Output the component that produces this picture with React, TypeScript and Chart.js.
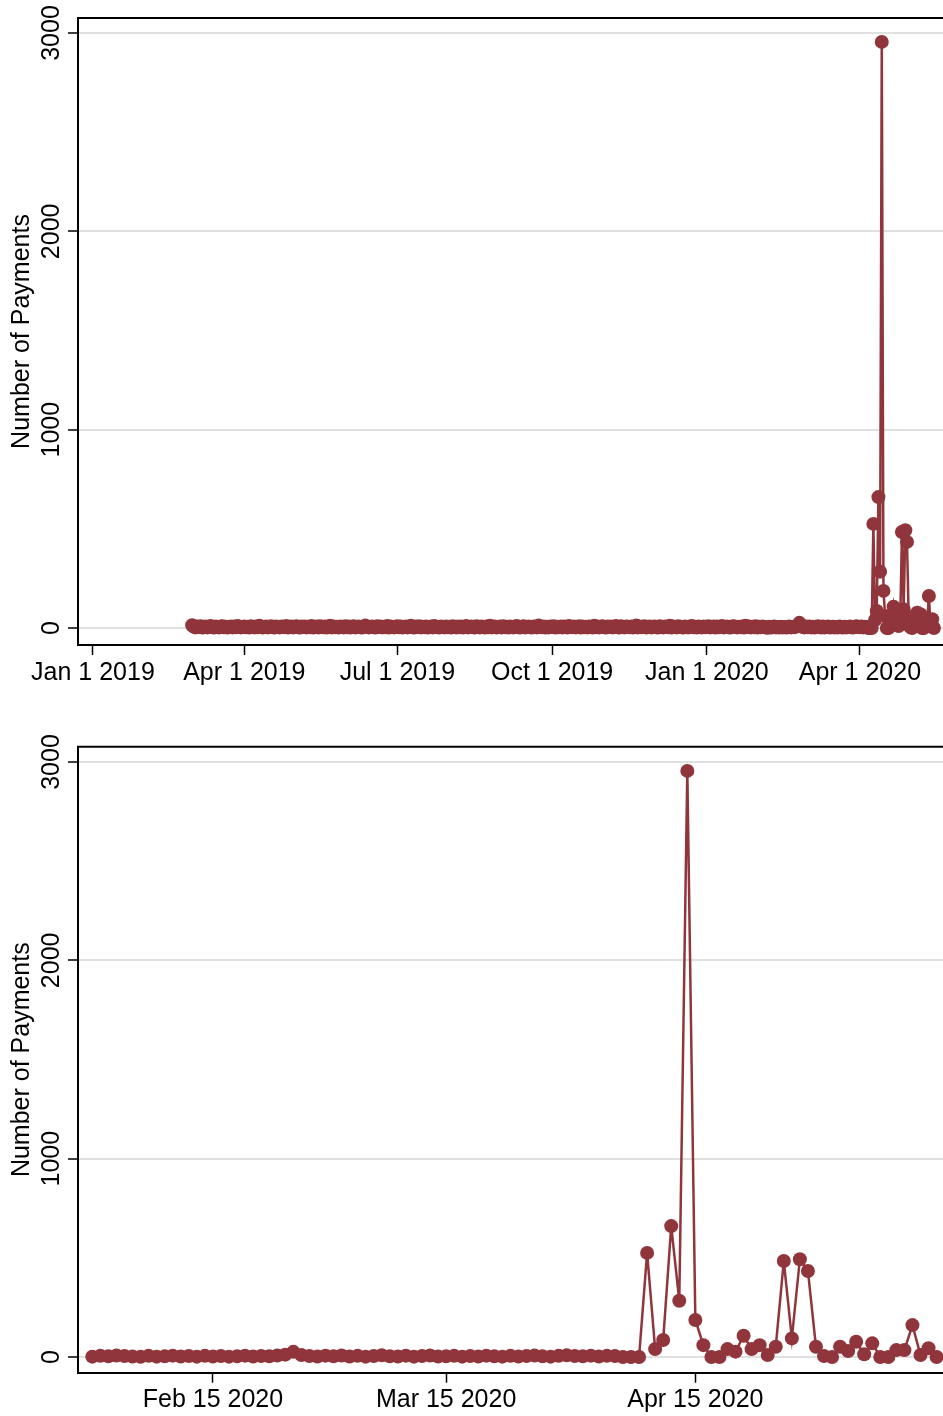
import React, { useEffect, useRef } from "react";
import { Chart, registerables } from "chart.js";

Chart.register(...registerables);

const DAY_MS = 86400000;
const dayNum = (y: number, m: number, d: number) => Date.UTC(y, m - 1, d) / DAY_MS;

// Daily number of payments, one array per calendar month (index 0 = the 1st)
const mar2019 = [14, 6, 3, 8, 5, 9, 2, 4, 7, 3, 6, 10, 4, 2, 8, 5, 3, 7, 9, 4, 6, 2, 5, 8, 3, 7, 4, 10, 6, 3, 5];
const apr2019 = [8, 4, 6, 2, 9, 5, 3, 7, 4, 11, 6, 2, 5, 8, 3, 6, 9, 4, 2, 7, 5, 3, 8, 6, 4, 10, 2, 5, 7, 3];
const may2019 = [6, 9, 4, 2, 7, 5, 8, 3, 6, 4, 10, 2, 5, 7, 3, 9, 6, 4, 8, 2, 5, 11, 3, 7, 4, 6, 2, 8, 5, 3, 9];
const jun2019 = [4, 7, 2, 6, 9, 3, 5, 8, 4, 2, 7, 12, 5, 3, 6, 8, 4, 2, 9, 5, 7, 3, 6, 4, 10, 2, 8, 5, 3, 6];
const jul2019 = [9, 4, 7, 2, 5, 8, 3, 6, 11, 4, 2, 7, 5, 9, 3, 6, 4, 8, 2, 5, 7, 3, 10, 6, 4, 2, 8, 5, 3, 7, 4];
const aug2019 = [6, 2, 9, 5, 3, 7, 4, 8, 2, 6, 10, 3, 5, 7, 4, 2, 9, 6, 3, 8, 5, 2, 7, 4, 11, 3, 6, 8, 2, 5, 7];
const sep2019 = [3, 9, 4, 6, 2, 8, 5, 3, 7, 10, 4, 2, 6, 9, 3, 5, 8, 4, 2, 7, 6, 3, 12, 5, 4, 8, 2, 6, 3, 7];
const oct2019 = [5, 9, 2, 6, 4, 8, 3, 7, 5, 2, 10, 6, 4, 8, 3, 5, 9, 2, 7, 4, 6, 3, 8, 5, 2, 11, 4, 7, 3, 6, 9];
const nov2019 = [4, 2, 8, 5, 7, 3, 6, 10, 4, 2, 9, 5, 3, 7, 6, 4, 8, 2, 5, 12, 3, 7, 4, 6, 9, 2, 5, 8, 3, 6];
const dec2019 = [7, 4, 2, 9, 5, 3, 8, 6, 4, 11, 2, 7, 5, 3, 9, 6, 4, 2, 8, 5, 3, 7, 10, 4, 6, 2, 8, 5, 3, 7, 4];
const jan2020 = [6, 9, 3, 5, 8, 2, 7, 4, 6, 10, 3, 5, 8, 4, 2, 7, 9, 5, 3, 6, 4, 8, 2, 11, 5, 7, 3, 6, 4, 9, 2];
const feb2020 = [6, 4, 8, 5, 3, 1, 6, 2, 4, 7, 3, 5, 2, 6, 3, 5, 2, 4, 7, 3, 5, 4, 8, 12, 26, 10, 5, 3, 7];
const mar2020 = [4, 8, 3, 6, 2, 5, 9, 4, 3, 7, 2, 5, 8, 3, 4, 6, 2, 5, 3, 7, 4, 2, 6, 3, 5, 8, 4, 2, 6, 9, 5];
const apr2020 = [4, 7, 3, 6, 5, 0, 0, 0, 525, 40, 86, 660, 284, 2955, 187, 60, 0, 0, 40, 27, 107, 40, 60, 10, 52, 484, 94, 493, 434, 52];
const may2020 = [5, 0, 52, 30, 77, 14, 69, 0, 0, 35, 35, 161, 10, 44, 0];

const monthSeries: [number, number, number[]][] = [
  [2019, 3, mar2019], [2019, 4, apr2019], [2019, 5, may2019], [2019, 6, jun2019],
  [2019, 7, jul2019], [2019, 8, aug2019], [2019, 9, sep2019], [2019, 10, oct2019],
  [2019, 11, nov2019], [2019, 12, dec2019], [2020, 1, jan2020], [2020, 2, feb2020],
  [2020, 3, mar2020], [2020, 4, apr2020], [2020, 5, may2020],
];

// Axis ticks
const yTickValues = [0, 1000, 2000, 3000];
const topTickDates: [number, number, number][] = [[2019, 1, 1], [2019, 4, 1], [2019, 7, 1], [2019, 10, 1], [2020, 1, 1], [2020, 4, 1]];
const topTickLabels = ["Jan 1 2019", "Apr 1 2019", "Jul 1 2019", "Oct 1 2019", "Jan 1 2020", "Apr 1 2020"];
const zoomTickDates: [number, number, number][] = [[2020, 2, 15], [2020, 3, 15], [2020, 4, 15]];
const zoomTickLabels = ["Feb 15 2020", "Mar 15 2020", "Apr 15 2020"];
const yTitle = "Number of Payments";

const LINE_COLOR = "rgb(144,53,59)";
const FONT = "25px 'Liberation Sans', Arial, sans-serif";

type Pt = { x: number; y: number };

function buildSeries(): Pt[] {
  const pts: Pt[] = [];
  monthSeries.forEach(([y, m, vals]) => {
    vals.forEach((v, i) => pts.push({ x: dayNum(y, m, i + 1), y: v }));
  });
  return pts;
}

interface PanelProps {
  data: Pt[];
  xMin: number;
  xMax: number;
  tickDates: [number, number, number][];
  tickLabels: string[];
  yMin: number;
  yMax: number;
  padTop: number;
  axisHeight: number;
  height: number;
}

function Panel(props: PanelProps) {
  const ref = useRef<HTMLCanvasElement | null>(null);

  useEffect(() => {
    const canvas = ref.current;
    if (!canvas) return;
    const tickValues = props.tickDates.map(([y, m, d]) => dayNum(y, m, d));

    // Text, tick labels and frame top edge
    const textPlugin = {
      id: "panelText",
      afterDraw(chart: any) {
        const { ctx, chartArea } = chart;
        const xs = chart.scales.x;
        const ys = chart.scales.y;
        ctx.save();
        // top frame
        ctx.strokeStyle = "#000";
        ctx.lineWidth = 2;
        ctx.beginPath();
        ctx.moveTo(chartArea.left - 1, chartArea.top);
        ctx.lineTo(chartArea.right, chartArea.top);
        ctx.stroke();

        ctx.fillStyle = "#000";
        ctx.font = FONT;
        ctx.textBaseline = "alphabetic";
        ctx.textAlign = "center";
        tickValues.forEach((v, i) => {
          const px = xs.getPixelForValue(v);
          ctx.fillText(props.tickLabels[i], px, chartArea.bottom + 34.5);
        });
        yTickValues.forEach((v) => {
          const py = ys.getPixelForValue(v);
          ctx.save();
          ctx.translate(58.5, py);
          ctx.rotate(-Math.PI / 2);
          ctx.fillText(String(v), 0, 0);
          ctx.restore();
        });
        ctx.save();
        ctx.translate(29, (chartArea.top + chartArea.bottom) / 2);
        ctx.rotate(-Math.PI / 2);
        ctx.fillText(yTitle, 0, 0);
        ctx.restore();
        ctx.restore();
      },
    };

    const chart = new Chart(canvas, {
      type: "line",
      data: {
        datasets: [
          {
            data: props.data,
            borderColor: LINE_COLOR,
            backgroundColor: LINE_COLOR,
            borderWidth: 2.5,
            pointRadius: 7,
            pointBorderWidth: 0,
            pointBackgroundColor: LINE_COLOR,
            tension: 0,
          },
        ],
      },
      options: {
        animation: false,
        responsive: false,
        maintainAspectRatio: false,
        layout: { autoPadding: false, padding: { top: props.padTop, left: 0, right: 0, bottom: 0 } },
        plugins: { legend: { display: false }, tooltip: { enabled: false } },
        scales: {
          x: {
            type: "linear",
            min: props.xMin,
            max: props.xMax,
            afterBuildTicks: (s: any) => {
              s.ticks = tickValues.map((v) => ({ value: v }));
            },
            afterFit: (s: any) => {
              s.height = props.axisHeight;
            },
            ticks: { display: false },
            grid: { drawOnChartArea: false, drawTicks: true, tickLength: 10, tickColor: "#000", tickWidth: 1.5 },
            border: { display: true, color: "#000", width: 2 },
          },
          y: {
            type: "linear",
            min: props.yMin,
            max: props.yMax,
            afterBuildTicks: (s: any) => {
              s.ticks = yTickValues.map((v) => ({ value: v }));
            },
            afterFit: (s: any) => {
              s.width = 78;
            },
            ticks: { display: false },
            grid: { color: "#e0e0e0", lineWidth: 2, drawTicks: true, tickLength: 10, tickColor: "#000", tickWidth: 1.5 },
            border: { display: true, color: "#000", width: 2 },
          },
        },
      } as any,
      plugins: [textPlugin],
    });
    return () => chart.destroy();
  }, []);

  return <canvas ref={ref} width={943} height={props.height} style={{ display: "block", width: 943, height: props.height }} />;
}

export default function App() {
  const all = buildSeries();
  const zoomStart = dayNum(2020, 1, 31);
  const recent = all.filter((p) => p.x >= zoomStart);
  const topOrigin = dayNum(2019, 1, 1);

  return (
    <div style={{ position: "absolute", left: 0, top: 0, width: 943, height: 1416, background: "#fff" }}>
      <Panel
        data={all}
        xMin={topOrigin - 8.9}
        xMax={topOrigin + 505.4}
        tickDates={topTickDates}
        tickLabels={topTickLabels}
        yMin={-85.7}
        yMax={3075.6}
        padTop={18}
        axisHeight={63}
        height={708}
      />
      <Panel
        data={recent}
        xMin={zoomStart - 1.78}
        xMax={zoomStart + 105.8}
        tickDates={zoomTickDates}
        tickLabels={zoomTickLabels}
        yMin={-79}
        yMax={3077}
        padTop={38.7}
        axisHeight={43.3}
        height={708}
      />
    </div>
  );
}
